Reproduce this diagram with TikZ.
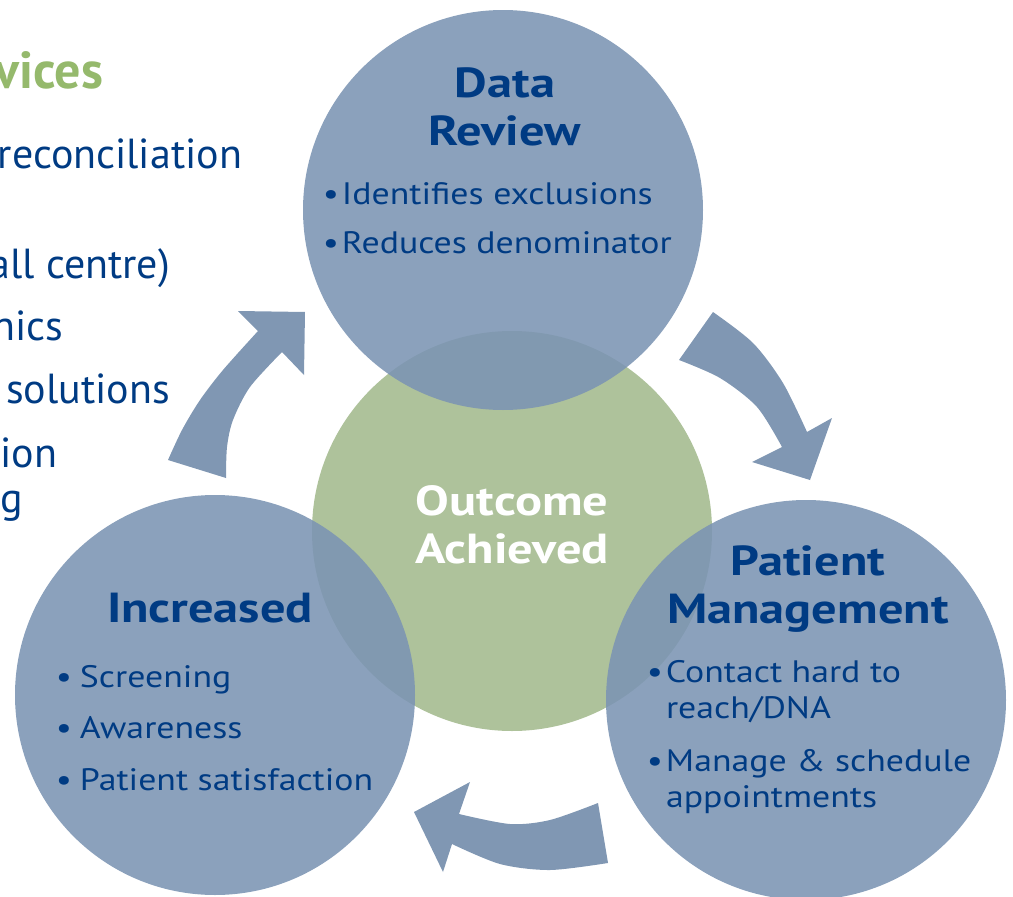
\documentclass[tikz,border=0pt]{standalone}
\usepackage{fontspec}
\setmainfont{PT Sans}
\newfontfamily\itmfont[FakeStretch=1.155]{PT Sans}
\newfontfamily\ttlfont[FakeStretch=1.2]{PT Sans}
\definecolor{circblue}{HTML}{7B94B3}
\definecolor{arrowblue}{HTML}{8097B3}
\definecolor{circgreen}{HTML}{AEC29B}
\definecolor{txtblue}{HTML}{003B83}
\definecolor{txtgreen}{HTML}{95B96C}
\begin{document}
\begin{tikzpicture}[x=1pt,y=-1pt,
  every node/.style={inner sep=0pt,outer sep=0pt},
  bcirc/.style={circle,minimum size=400pt,fill=circblue,fill opacity=0.88},
  gcirc/.style={circle,minimum size=400pt,fill=circgreen},
  arr/.style={fill=arrowblue},
  ttl/.style={font=\ttlfont\bfseries\fontsize{42}{48}\selectfont,text=txtblue,anchor=base},
  wttl/.style={font=\ttlfont\bfseries\fontsize{42}{48}\selectfont,text=white,anchor=base},
  itm/.style={font=\itmfont\fontsize{31}{36}\selectfont,text=txtblue,anchor=base west},
  side/.style={font=\fontsize{42}{48}\selectfont,text=txtblue,anchor=base east},
  sidettl/.style={font=\bfseries\fontsize{52}{60}\selectfont,text=txtgreen,anchor=base east}]
\useasboundingbox (0,0) rectangle (1013,897);
\clip (0,0) rectangle (1013,897);
% left column fragments
\node[sidettl] (s0) at (103,88) {vices};
\node[side] (s1) at (242,168) {reconciliation};
\node[side] (s2) at (170,278) {all centre)};
\node[side] (s3) at (63,340) {nics};
\node[side] (s4) at (170,403) {solutions};
\node[side] (s5) at (57,467) {tion};
\node[side] (s6) at (23,512) {g};
% circles
\node[gcirc] (oc) at (512,531) {};
\node[bcirc] (dr) at (503,210) {};
\node[bcirc] (pm) at (806,700) {};
\node[bcirc] (inc) at (215,695) {};
% arrows
\fill[arr] (168,460) -- plot[smooth] coordinates {(168,460) (182,430) (200,400) (223,370) (258,331)}
  -- (238,311) -- (305,312) -- (304,375) -- (282,352)
  -- plot[smooth] coordinates {(282,352) (250,387) (233,420) (227,447) (226,478)} -- cycle;
\fill[arr] (713,312) -- plot[smooth] coordinates {(713,312) (753,343) (783,383) (807,432)}
  -- (832,418) -- (810,480) -- (752,462) -- (782,447)
  -- plot[smooth] coordinates {(782,447) (757,407) (720,378) (679,360)} -- cycle;
\fill[arr] (598,803) -- plot[smooth] coordinates {(598,803) (550,820) (510,824) (459,814)}
  -- (470,782) -- (414,812) -- (443,872) -- (452,844)
  -- plot[smooth] coordinates {(452,844) (500,864) (550,870) (608,863)} -- cycle;
% texts
\node[ttl] (drt1) at (505,97) {Data};
\node[ttl] (drt2) at (505,145) {Review};
\node[itm] (dri1) at (342,204) {\llap{•\hspace{3pt}}Identifies exclusions};
\node[itm] (dri2) at (342,253) {\llap{•\hspace{3pt}}Reduces denominator};
\node[wttl] (oct1) at (512,515) {Outcome};
\node[wttl] (oct2) at (512,563) {Achieved};
\node[ttl] (pmt1) at (808,575) {Patient};
\node[ttl] (pmt2) at (808,623) {Management};
\node[itm] (pmi1) at (666,682) {\llap{•\hspace{3pt}}Contact hard to};
\node[itm] (pmi2) at (666,718) {reach/DNA};
\node[itm] (pmi3) at (666,771) {\llap{•\hspace{3pt}}Manage \& schedule};
\node[itm] (pmi4) at (666,807) {appointments};
\node[ttl] (inct) at (210,622) {Increased};
\node[itm] (inci1) at (80,687) {\llap{•\hspace{8pt}}Screening};
\node[itm] (inci2) at (80,738) {\llap{•\hspace{8pt}}Awareness};
\node[itm] (inci3) at (80,790) {\llap{•\hspace{8pt}}Patient satisfaction};
\end{tikzpicture}
\end{document}
